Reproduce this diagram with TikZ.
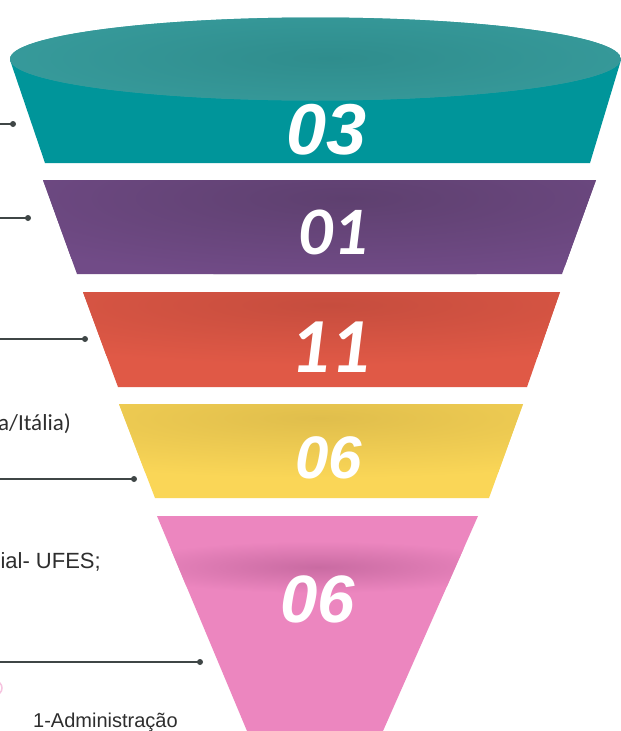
\documentclass[tikz,border=0pt]{standalone}
\usepackage{fontspec}
\setmainfont{Liberation Sans}
\newfontfamily\numfont{Liberation Sans}
\newfontfamily\calfont{Carlito}
\begin{document}
\begin{tikzpicture}[x=1pt,y=-1pt,
  numA/.style={text=white,inner sep=0pt,font=\numfont\bfseries\itshape\fontsize{#1}{#1}\selectfont},
  numB/.style={text=white,inner sep=0pt,font=\calfont\bfseries\itshape\fontsize{#1}{#1}\selectfont},
  label/.style={text=black!82,inner sep=0pt,font=\fontsize{20}{24}\selectfont},
  pin/.style={circle,fill=linegray,inner sep=0pt,minimum size=6pt},
  lead/.style={draw=linegray,line width=1.6pt}]
\definecolor{tealbody}{HTML}{00959A}
\definecolor{tealtop}{HTML}{3CA3A4}
\definecolor{tealdark}{HTML}{2F8D8D}
\definecolor{purplebase}{HTML}{714B87}
\definecolor{purpledark}{HTML}{5E406F}
\definecolor{redbase}{HTML}{E05946}
\definecolor{reddark}{HTML}{C64D3E}
\definecolor{yellowbase}{HTML}{FAD657}
\definecolor{yellowdark}{HTML}{E0BE4C}
\definecolor{pinkbase}{HTML}{EC86BF}
\definecolor{pinkdark}{HTML}{C96BA2}
\definecolor{linegray}{HTML}{3F4646}

\useasboundingbox (0,0) rectangle (621,731);
\fill[white] (0,0) rectangle (621,731);

% top band: body and rim
\fill[tealbody] (10,60) -- (45,163) -- (590,163) -- (621,60) -- cycle;
\begin{scope}
  \clip (315.5,59) ellipse (305.5 and 41.5);
  \fill[tealtop] (315.5,59) ellipse (305.5 and 41.5);
  \shade[inner color=tealdark,outer color=tealtop] (330,58) ellipse (560 and 90);
\end{scope}

% second band
\begin{scope}
  \clip (43,180) -- (77,274) -- (562,274) -- (596,180) -- cycle;
  \fill[purplebase] (0,170) rectangle (621,280);
  \shade[inner color=purpledark,outer color=purplebase] (345,198) ellipse (420 and 80);
\end{scope}

% third band
\begin{scope}
  \clip (83,292) -- (118,387) -- (527,387) -- (560,292) -- cycle;
  \fill[redbase] (0,285) rectangle (621,390);
  \shade[inner color=reddark,outer color=redbase] (330,305) ellipse (420 and 60);
\end{scope}

% fourth band
\begin{scope}
  \clip (119,404) -- (155,498) -- (489,498) -- (523,404) -- cycle;
  \fill[yellowbase] (0,400) rectangle (621,500);
  \shade[inner color=yellowdark,outer color=yellowbase] (320,418) ellipse (420 and 60);
\end{scope}

% bottom cone
\begin{scope}
  \clip (157,516) -- (247,731) -- (383,731) -- (478,516) -- cycle;
  \fill[pinkbase] (150,510) rectangle (490,731);
  \shade[inner color=pinkdark,outer color=pinkbase] (318,567) ellipse (200 and 26);
\end{scope}

% values
\node[numA=72] (v1) at (327,130) {03};
\node[numB=68] (v2) at (333,232) {01};
\node[numB=78] (v3) at (330,347) {11};
\node[numA=60] (v4) at (329,458) {06};
\node[numA=67] (v5) at (318,599) {06};

% leader lines
\node[pin] (d1) at (13,124) {};
\node[pin] (d2) at (28,218) {};
\node[pin] (d3) at (85,339) {};
\node[pin] (d4) at (134,479) {};
\node[pin] (d5) at (200,662) {};
\coordinate (e1) at (-2,124);
\coordinate (e2) at (-2,218);
\coordinate (e3) at (-2,339);
\coordinate (e4) at (-2,479);
\coordinate (e5) at (-2,662);
\draw[lead] (e1) -- (d1.center);
\draw[lead] (e2) -- (d2.center);
\draw[lead] (e3) -- (d3.center);
\draw[lead] (e4) -- (d4.center);
\draw[lead] (e5) -- (d5.center);

% labels
\node[label,anchor=base east,font=\calfont\fontsize{23}{26}\selectfont] (t1) at (71,430) {a/Itália)};
\node[label,anchor=base east,font=\fontsize{22}{26}\selectfont] (t2) at (101,568) {ial- UFES;};
\node[label,anchor=base west] (t3) at (33,727) {1-Administração};

% small mark at the left edge
\draw[pinkbase!50,line width=1.5pt] (-5,688) circle[radius=7];
\end{tikzpicture}
\end{document}
